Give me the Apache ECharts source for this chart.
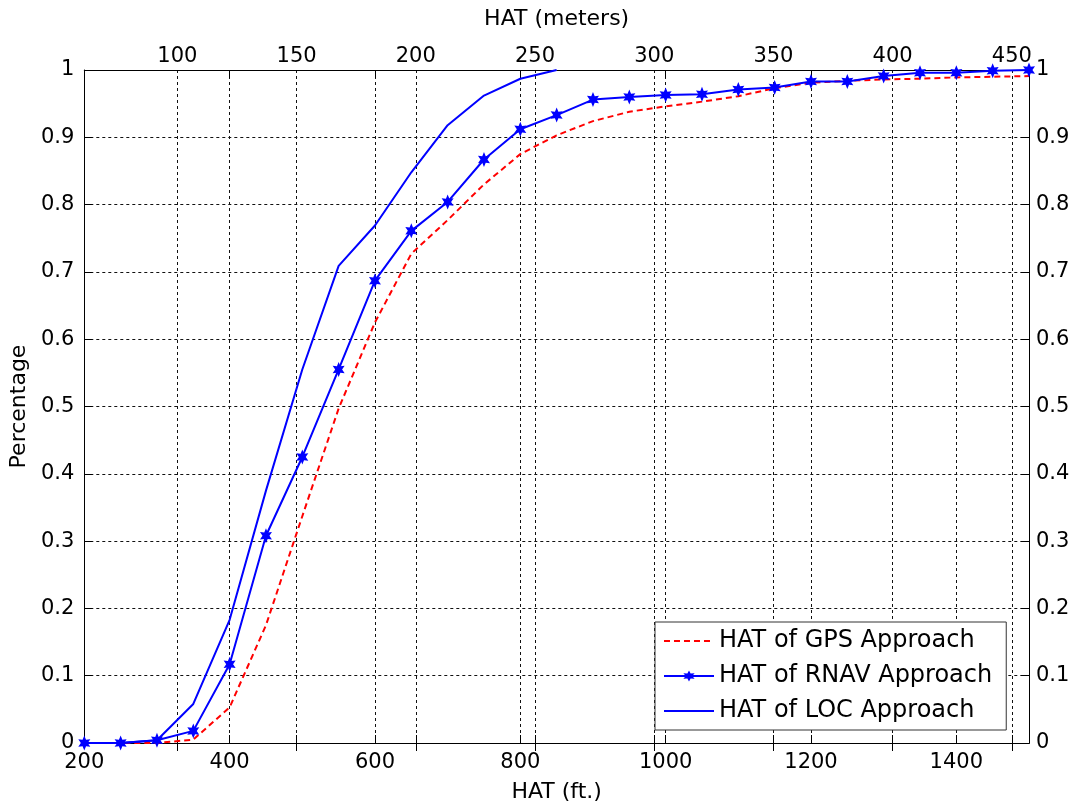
<!DOCTYPE html>
<html>
<head>
<meta charset="utf-8">
<script src="https://cdn.jsdelivr.net/npm/echarts@6/dist/echarts.min.js"></script>
<style>html,body{margin:0;padding:0;background:#fff;}#chart{width:1077px;height:808px;}</style>
</head>
<body>
<div id="chart"></div>
<script>
// ---- data ----
const hatFeet = [200,250,300,350,400,450,500,550,600,650,700,750,800,850,900,950,1000,1050,1100,1150,1200,1250,1300,1350,1400,1450,1500];
const gpsValues = [0,0,0,0.005,0.053,0.175,0.337,0.497,0.625,0.727,0.777,0.830,0.875,0.903,0.924,0.938,0.946,0.953,0.961,0.973,0.981,0.984,0.986,0.987,0.989,0.990,0.991];
const rnavValues = [0,0,0.004,0.018,0.117,0.308,0.425,0.555,0.687,0.761,0.804,0.867,0.912,0.933,0.956,0.960,0.963,0.964,0.971,0.974,0.983,0.983,0.991,0.996,0.996,0.999,1.0];
const locFeet = [200,250,300,350,400,450,500,550,600,650,700,750,800,850];
const locValues = [0,0,0.004,0.058,0.183,0.375,0.555,0.709,0.769,0.848,0.918,0.962,0.987,1.0];
const feetTicks = [200,400,600,800,1000,1200,1400];
const meterTicks = [100,150,200,250,300,350,400,450];
const feetRange = [200,1500];
const FT_TO_M = 0.3048;
const seriesNames = ['HAT of GPS Approach','HAT of RNAV Approach','HAT of LOC Approach'];

const pair = (xs, ys) => xs.map((x,i) => [x, ys[i]]);
const FONT = 'DejaVu Sans';
const gridLine = {show:true, lineStyle:{color:'#111', type:[3,3], width:1}};
const axLine = {show:true, lineStyle:{color:'#000', width:1}};
const tick = {show:true, inside:true, length:8, lineStyle:{color:'#000', width:1}};
const lab = {color:'#000', fontFamily:FONT, fontSize:21};
const starPath = 'path://M0,-10 L2.5,-4.33 L8.66,-5 L5,0 L8.66,5 L2.5,4.33 L0,10 L-2.5,4.33 L-8.66,5 L-5,0 L-8.66,-5 L-2.5,-4.33 Z';

const mMin = feetRange[0]*FT_TO_M, mMax = feetRange[1]*FT_TO_M;

const option = {
  animation:false,
  backgroundColor:'#fff',
  grid:{left:84, right:48, top:70, bottom:65, containLabel:false},
  legend:{
    orient:'vertical', left:655, top:622, padding:[7,14,7,8],
    itemWidth:50, itemHeight:14, itemGap:11,
    backgroundColor:'#fff', borderColor:'#333', borderWidth:1,
    textStyle:{color:'#000', fontFamily:FONT, fontSize:24},
    data:[
      {name:seriesNames[0], itemStyle:{opacity:0}},
      {name:seriesNames[1]},
      {name:seriesNames[2], itemStyle:{opacity:0}}
    ]
  },
  xAxis:[
    {type:'value', position:'bottom', min:feetRange[0], max:feetRange[1], interval:200,
     name:'HAT (ft.)', nameLocation:'middle', nameGap:38,
     nameTextStyle:{color:'#000', fontFamily:FONT, fontSize:22},
     axisLine:axLine, axisTick:tick,
     axisLabel:Object.assign({margin:9, customValues:feetTicks, formatter:v => String(v)}, lab),
     splitLine:gridLine},
    {type:'value', position:'top', min:mMin, max:mMax,
     name:'HAT (meters)', nameLocation:'middle', nameGap:40,
     nameTextStyle:{color:'#000', fontFamily:FONT, fontSize:22},
     axisLine:axLine, axisTick:Object.assign({customValues:meterTicks}, tick),
     axisLabel:Object.assign({margin:3, customValues:meterTicks, formatter:v => String(v)}, lab), splitLine:gridLine},
    {type:'value', position:'top', min:feetRange[0], max:feetRange[1], interval:200,
     axisLine:axLine, axisTick:tick, axisLabel:{show:false}, splitLine:{show:false}},
    {type:'value', position:'bottom', min:mMin, max:mMax,
     axisLine:axLine, axisTick:Object.assign({customValues:meterTicks}, tick),
     axisLabel:{show:false, customValues:meterTicks}, splitLine:{show:false}}
  ],
  yAxis:[
    {type:'value', position:'left', min:0, max:1, interval:0.1,
     name:'Percentage', nameLocation:'middle', nameGap:48, nameRotate:90,
     nameTextStyle:{color:'#000', fontFamily:FONT, fontSize:22},
     axisLine:axLine, axisTick:tick, axisLabel:Object.assign({margin:10}, lab), splitLine:gridLine},
    {type:'value', position:'right', min:0, max:1, interval:0.1,
     axisLine:axLine, axisTick:tick, axisLabel:Object.assign({margin:7}, lab), splitLine:{show:false}}
  ],
  series:[
    {name:seriesNames[0], type:'line', xAxisIndex:0, yAxisIndex:0, data:pair(hatFeet,gpsValues),
     symbol:'none', lineStyle:{color:'#ff0000', width:2, type:[6,4]}, itemStyle:{color:'#ff0000'}, z:3},
    {name:seriesNames[1], type:'line', xAxisIndex:0, yAxisIndex:0, data:pair(hatFeet,rnavValues),
     symbol:starPath, symbolSize:[12,15], showAllSymbol:true,
     lineStyle:{color:'#0000ff', width:2}, itemStyle:{color:'#0000ff', borderWidth:0}, z:4},
    {name:seriesNames[2], type:'line', xAxisIndex:0, yAxisIndex:0, data:pair(locFeet,locValues),
     symbol:'none', lineStyle:{color:'#0000ff', width:2}, itemStyle:{color:'#0000ff'}, z:4}
  ]
};
const chart = echarts.init(document.getElementById('chart'), null, {renderer:'canvas'});
chart.setOption(option);
</script>
</body>
</html>
